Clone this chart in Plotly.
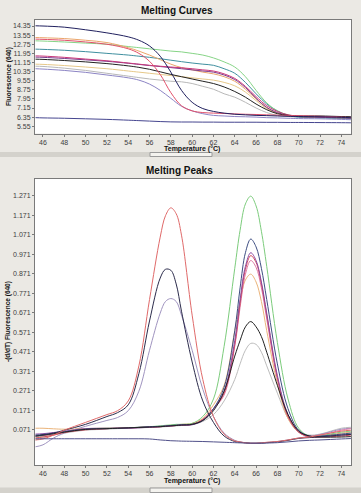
import plotly.graph_objects as go

W, H = 361, 493

# ---------------- Melting Curves (top) ----------------
temp_curve = [45.3, 46, 48, 50, 52, 54, 55, 56, 57, 58, 59, 60, 61, 62, 63, 64, 65, 66, 67, 68, 69, 70, 72, 74, 74.9]

curve_navy = [14.37, 14.35, 14.25, 14.02, 13.75, 13.4, 13.1, 12.6, 11.7, 10.3, 8.7, 7.65, 7.1, 6.85, 6.7, 6.6, 6.55, 6.5, 6.48, 6.45, 6.42, 6.4, 6.38, 6.33, 6.3]
curve_orange = [13.34, 13.32, 13.25, 13.1, 12.9, 12.45, 12.15, 11.8, 11.4, 11.0, 10.7, 10.5, 10.3, 10.15, 9.9, 9.5, 8.8, 7.95, 7.2, 6.7, 6.5, 6.4, 6.35, 6.3, 6.3]
curve_red = [13.2, 13.18, 13.1, 12.95, 12.75, 12.35, 11.95, 11.25, 10.1, 8.5, 7.35, 6.9, 6.75, 6.7, 6.67, 6.63, 6.6, 6.58, 6.55, 6.52, 6.5, 6.47, 6.42, 6.35, 6.3]
curve_green = [13.05, 13.03, 12.95, 12.85, 12.75, 12.55, 12.45, 12.35, 12.25, 12.15, 12.08, 11.95, 11.8, 11.55, 11.2, 10.75, 9.9, 8.7, 7.6, 6.9, 6.55, 6.42, 6.35, 6.3, 6.28]
curve_teal = [12.32, 12.30, 12.22, 12.1, 11.95, 11.8, 11.7, 11.6, 11.48, 11.35, 11.22, 11.1, 11.0, 10.9, 10.6, 10.2, 9.4, 8.4, 7.5, 6.9, 6.5, 6.35, 6.3, 6.25, 6.22]
curve_magenta = [11.73, 11.71, 11.6, 11.45, 11.3, 11.1, 11.0, 10.9, 10.82, 10.75, 10.68, 10.6, 10.5, 10.4, 10.15, 9.75, 9.05, 8.15, 7.35, 6.85, 6.55, 6.45, 6.4, 6.37, 6.35]
curve_purple = [11.62, 11.6, 11.5, 11.38, 11.25, 11.08, 10.98, 10.88, 10.79, 10.7, 10.6, 10.5, 10.4, 10.3, 10.05, 9.65, 8.95, 8.0, 7.2, 6.75, 6.5, 6.4, 6.33, 6.28, 6.25]
curve_black = [11.44, 11.42, 11.32, 11.2, 11.05, 10.85, 10.72, 10.55, 10.33, 10.1, 9.9, 9.7, 9.5, 9.3, 9.0, 8.6, 8.1, 7.5, 7.0, 6.65, 6.5, 6.45, 6.45, 6.4, 6.38]
curve_tan = [11.0, 10.98, 10.88, 10.75, 10.6, 10.4, 10.3, 10.2, 10.1, 10.0, 9.9, 9.8, 9.7, 9.6, 9.4, 9.1, 8.55, 7.8, 7.1, 6.7, 6.5, 6.4, 6.35, 6.3, 6.3]
curve_violet = [10.6, 10.57, 10.45, 10.28, 10.05, 9.8, 9.6, 9.25, 8.7, 8.0, 7.3, 6.9, 6.65, 6.5, 6.45, 6.4, 6.38, 6.35, 6.3, 6.28, 6.25, 6.22, 6.2, 6.15, 6.12]
curve_gray = [10.82, 10.8, 10.65, 10.45, 10.2, 9.95, 9.82, 9.7, 9.6, 9.5, 9.45, 9.3, 9.05, 8.8, 8.4, 8.1, 7.65, 7.15, 6.75, 6.5, 6.4, 6.35, 6.3, 6.25, 6.2]
curve_blue = [6.3, 6.28, 6.25, 6.2, 6.15, 6.08, 6.04, 6.0, 5.96, 5.93, 5.92, 5.92, 5.91, 5.91, 5.9, 5.9, 5.9, 5.9, 5.89, 5.89, 5.88, 5.88, 5.87, 5.86, 5.85]

curves = [
    (curve_gray, "#b8b8b8"), (curve_tan, "#e6c889"), (curve_violet, "#8c84c4"),
    (curve_teal, "#3f8f9f"), (curve_green, "#86d486"), (curve_orange, "#eaa56a"),
    (curve_purple, "#7a3c8c"), (curve_magenta, "#c8387a"), (curve_black, "#222222"),
    (curve_red, "#e2506a"), (curve_navy, "#20205e"), (curve_blue, "#45458f"),
]

# ---------------- Melting Peaks (bottom) ----------------
temp_peak = [45.3, 46, 47, 48, 50, 52, 53, 54, 55, 56, 57, 57.5, 58, 58.5, 59, 60, 61, 62, 63, 64, 64.5, 65, 65.5, 66, 66.5, 67, 68, 69, 70, 71, 72, 74, 74.9]

peak_red = [0.02, 0.025, 0.045, 0.07, 0.11, 0.15, 0.17, 0.22, 0.40, 0.74, 1.06, 1.17, 1.21, 1.18, 1.07, 0.66, 0.33, 0.14, 0.05, 0.015, 0.01, 0.005, 0.003, 0.003, 0.005, 0.008, 0.012, 0.02, 0.03, 0.035, 0.045, 0.065, 0.07]
peak_black = [0.04, 0.045, 0.055, 0.07, 0.10, 0.14, 0.16, 0.20, 0.36, 0.63, 0.85, 0.895, 0.89, 0.82, 0.68, 0.42, 0.22, 0.11, 0.04, 0.012, 0.008, 0.005, 0.003, 0.003, 0.004, 0.006, 0.01, 0.018, 0.028, 0.032, 0.036, 0.045, 0.048]
peak_lavender = [-0.015, -0.005, 0.03, 0.055, 0.09, 0.12, 0.135, 0.17, 0.27, 0.48, 0.67, 0.73, 0.745, 0.73, 0.66, 0.48, 0.28, 0.14, 0.055, 0.018, 0.01, 0.006, 0.004, 0.004, 0.005, 0.007, 0.012, 0.02, 0.03, 0.038, 0.048, 0.075, 0.08]
peak_green = [0.035, 0.04, 0.05, 0.06, 0.075, 0.08, 0.08, 0.082, 0.085, 0.088, 0.092, 0.095, 0.097, 0.1, 0.1, 0.105, 0.14, 0.23, 0.50, 0.90, 1.095, 1.23, 1.27, 1.22, 1.09, 0.91, 0.52, 0.23, 0.08, 0.04, 0.042, 0.06, 0.065]
peak_navy = [0.045, 0.048, 0.055, 0.062, 0.075, 0.078, 0.08, 0.082, 0.085, 0.088, 0.09, 0.092, 0.094, 0.096, 0.098, 0.1, 0.12, 0.18, 0.29, 0.58, 0.80, 0.98, 1.05, 1.01, 0.90, 0.74, 0.41, 0.18, 0.07, 0.04, 0.04, 0.05, 0.055]
peak_purple = [0.05, 0.052, 0.058, 0.065, 0.078, 0.08, 0.08, 0.08, 0.082, 0.085, 0.088, 0.09, 0.092, 0.094, 0.096, 0.098, 0.12, 0.18, 0.27, 0.53, 0.74, 0.91, 0.98, 0.94, 0.83, 0.67, 0.35, 0.15, 0.065, 0.04, 0.038, 0.045, 0.05]
peak_red2 = [0.03, 0.035, 0.045, 0.058, 0.072, 0.078, 0.08, 0.082, 0.084, 0.086, 0.088, 0.09, 0.092, 0.094, 0.096, 0.1, 0.125, 0.18, 0.26, 0.51, 0.72, 0.895, 0.965, 0.93, 0.82, 0.66, 0.34, 0.14, 0.06, 0.035, 0.035, 0.04, 0.045]
peak_pink = [0.04, 0.042, 0.05, 0.06, 0.074, 0.078, 0.08, 0.082, 0.084, 0.086, 0.088, 0.09, 0.092, 0.094, 0.096, 0.1, 0.125, 0.18, 0.25, 0.50, 0.70, 0.87, 0.94, 0.905, 0.80, 0.64, 0.33, 0.14, 0.06, 0.04, 0.045, 0.07, 0.078]
peak_orange = [0.08, 0.08, 0.077, 0.075, 0.078, 0.08, 0.08, 0.082, 0.084, 0.086, 0.09, 0.092, 0.095, 0.097, 0.1, 0.105, 0.13, 0.2, 0.30, 0.58, 0.73, 0.84, 0.87, 0.83, 0.73, 0.58, 0.31, 0.13, 0.06, 0.04, 0.04, 0.055, 0.06]
peak_black2 = [0.04, 0.045, 0.052, 0.06, 0.074, 0.078, 0.08, 0.082, 0.084, 0.086, 0.088, 0.09, 0.092, 0.094, 0.096, 0.1, 0.12, 0.17, 0.27, 0.45, 0.53, 0.60, 0.627, 0.60, 0.55, 0.47, 0.30, 0.15, 0.065, 0.04, 0.035, 0.035, 0.037]
peak_gray2 = [0.02, 0.03, 0.045, 0.055, 0.07, 0.075, 0.078, 0.08, 0.082, 0.084, 0.086, 0.088, 0.09, 0.092, 0.094, 0.098, 0.115, 0.15, 0.22, 0.33, 0.41, 0.48, 0.515, 0.51, 0.47, 0.40, 0.26, 0.13, 0.06, 0.045, 0.05, 0.08, 0.085]
peak_blue = [0.026, 0.026, 0.026, 0.026, 0.026, 0.026, 0.026, 0.026, 0.026, 0.025, 0.02, 0.018, 0.016, 0.015, 0.014, 0.013, 0.012, 0.01, 0.008, 0.006, 0.005, 0.004, 0.003, 0.003, 0.003, 0.004, 0.006, 0.01, 0.015, 0.018, 0.02, 0.025, 0.027]

peaks = [
    (peak_gray2, "#bdbdbd"), (peak_lavender, "#a094c0"), (peak_orange, "#ebb47a"),
    (peak_green, "#7ccc7c"), (peak_pink, "#e07aa6"), (peak_red2, "#d44858"),
    (peak_purple, "#8a4aa0"), (peak_navy, "#3e4e82"), (peak_black2, "#222222"),
    (peak_black, "#2c2c4c"), (peak_red, "#e06a6a"), (peak_blue, "#50508a"),
]

curve_ticks = [5.55, 6.35, 7.15, 7.95, 8.75, 9.55, 10.35, 11.15, 11.95, 12.75, 13.55, 14.35]
peak_ticks = [0.071, 0.171, 0.271, 0.371, 0.471, 0.571, 0.671, 0.771, 0.871, 0.971, 1.071, 1.171, 1.271]
temp_ticks = [46, 48, 50, 52, 54, 56, 58, 60, 62, 64, 66, 68, 70, 72, 74]

fig = go.Figure()
for ys, col in curves:
    fig.add_trace(go.Scatter(x=temp_curve, y=ys, mode="lines", line=dict(color=col, width=1, shape="spline"),
                             xaxis="x", yaxis="y", showlegend=False, hoverinfo="skip"))
for ys, col in peaks:
    fig.add_trace(go.Scatter(x=temp_peak, y=ys, mode="lines", line=dict(color=col, width=1, shape="spline"),
                             xaxis="x2", yaxis="y2", showlegend=False, hoverinfo="skip"))

def px(x):
    return x / W

def py(y):
    return 1 - y / H

tickfont = dict(family="Liberation Sans, Arial, sans-serif", size=7, color="#404040")
axis_common = dict(showgrid=False, zeroline=False, showline=True, mirror=True, linecolor="#7a7a7a",
                   linewidth=1, ticks="outside", ticklen=2, tickcolor="#7a7a7a", tickfont=tickfont)

fig.update_layout(
    width=W, height=H, margin=dict(l=0, r=0, t=0, b=0),
    paper_bgcolor="#EBE9E4", plot_bgcolor="#FFFFFF",
    xaxis=dict(domain=[px(35), px(351)], anchor="y", range=[45.25, 74.91],
               tickvals=temp_ticks, ticktext=[str(t) for t in temp_ticks], **axis_common),
    yaxis=dict(domain=[py(133.5), py(20)], anchor="x", range=[4.91, 14.88],
               tickvals=curve_ticks, ticktext=[f"{v:.2f}" for v in curve_ticks], **axis_common),
    xaxis2=dict(domain=[px(35), px(351)], anchor="y2", range=[45.25, 74.91],
                tickvals=temp_ticks, ticktext=[str(t) for t in temp_ticks], **axis_common),
    yaxis2=dict(domain=[py(465), py(179)], anchor="x2", range=[-0.1085, 1.358],
                tickvals=peak_ticks, ticktext=[f"{v:.3f}" for v in peak_ticks], **axis_common),
)

title_font = dict(family="Liberation Sans, Arial, sans-serif", size=10, color="#111111")
lab_font = dict(family="Liberation Sans, Arial, sans-serif", size=7, color="#111111")

def ann(text, x, y, font, angle=0):
    fig.add_annotation(text=text, x=px(x), y=py(y), xref="paper", yref="paper", showarrow=False,
                       font=font, textangle=angle, xanchor="center", yanchor="middle")

ann("<b>Melting Curves</b>", 177, 10, title_font)
ann("<b>Melting Peaks</b>", 179, 170, title_font)
ann("<b>Temperature (°C)</b>", 192, 148.5, lab_font)
ann("<b>Temperature (°C)</b>", 192, 480.5, lab_font)
ann("<b>Fluorescence (640)</b>", 9, 77, dict(lab_font, size=6.5), angle=-90)
ann("<b>-(d/dT) Fluorescence (640)</b>", 8, 322, dict(lab_font, size=6.5), angle=-90)

# scroll strips with sliders
for y0, y1 in [(152, 157), (487.5, 493)]:
    fig.add_shape(type="rect", xref="paper", yref="paper", x0=0, x1=1, y0=py(y1), y1=py(y0),
                  fillcolor="#D4D2CC", line=dict(width=0), layer="below")
    fig.add_shape(type="rect", xref="paper", yref="paper", x0=px(150), x1=px(212), y0=py(y1 - 0.5), y1=py(y0 + 0.5),
                  fillcolor="#F4F3EF", line=dict(color="#9a9a9a", width=1), layer="below")

fig.write_html("out.html", config={"displayModeBar": False},
               post_script="document.body.style.margin='0';document.body.style.overflow='hidden';")
